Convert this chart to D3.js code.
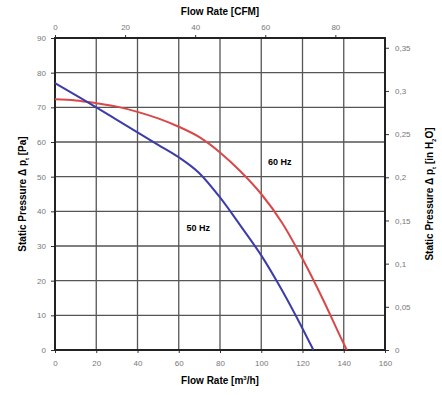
<!DOCTYPE html>
<html>
<head>
<meta charset="utf-8">
<script src="https://cdn.jsdelivr.net/npm/d3@7"></script>
<style>
  body { margin: 0; background: #fff; }
  .tick text { fill: #777; font-family: "Liberation Sans", Arial, sans-serif; font-size: 8px; }
</style>
</head>
<body>
<div id="my_dataviz"></div>
<script>
// data
var flow50 = [0, 10, 20, 30, 40, 50, 60, 70, 80, 90, 100, 110, 120, 125.3];
var pres50 = [77, 73.5, 70, 66.4, 62.8, 59.2, 55.6, 51, 44, 35.8, 27.3, 17.3, 6.2, 0];
var flow60 = [0, 10, 20, 30, 40, 50, 60, 70, 80, 90, 100, 110, 120, 130, 140, 141.5];
var pres60 = [72.3, 72, 71.2, 70.2, 68.7, 66.8, 64.4, 61.4, 57, 51.5, 45, 36.8, 26.3, 14.5, 1.8, 0];
var flowTicks = [0, 20, 40, 60, 80, 100, 120, 140, 160];
var cfmTicks = [0, 20, 40, 60, 80];
var paTicks = [0, 10, 20, 30, 40, 50, 60, 70, 80, 90];
var inTicks = [0, 0.05, 0.1, 0.15, 0.2, 0.25, 0.3, 0.35];

// set the dimensions and margins of the graph
var margin = {top: 38, right: 57, bottom: 45, left: 55},
    width = 442 - margin.left - margin.right,
    height = 395 - margin.top - margin.bottom;

var svg = d3.select("#my_dataviz")
  .append("svg")
    .attr("width", 442)
    .attr("height", 395)
  .append("g")
    .attr("transform", "translate(" + margin.left + "," + margin.top + ")");

var x = d3.scaleLinear().domain([0, 160]).range([0, width]);
var xCfm = d3.scaleLinear().domain([0, 160 / 1.699]).range([0, width]);
var y = d3.scaleLinear().domain([0, 90]).range([height, 0]);
var yIn = d3.scaleLinear().domain([0, 90 / 249.09]).range([height, 0]);

// grid
svg.append("g")
  .selectAll("line")
  .data(flowTicks)
  .enter()
  .append("line")
    .attr("x1", d => x(d)).attr("x2", d => x(d))
    .attr("y1", 0).attr("y2", height)
    .attr("stroke", "#555")
    .attr("stroke-width", 1.3);
svg.append("g")
  .selectAll("line")
  .data(paTicks)
  .enter()
  .append("line")
    .attr("y1", d => y(d)).attr("y2", d => y(d))
    .attr("x1", 0).attr("x2", width)
    .attr("stroke", "#555")
    .attr("stroke-width", 1.3);

// axes
function styleAxis(g) {
  g.select(".domain").remove();
  g.selectAll(".tick line").attr("stroke", "#333");
}
svg.append("g")
  .attr("transform", "translate(0," + height + ")")
  .call(d3.axisBottom(x).tickValues(flowTicks).tickSize(3).tickPadding(7))
  .call(styleAxis);
svg.append("g")
  .call(d3.axisTop(xCfm).tickValues(cfmTicks).tickSize(3).tickPadding(5))
  .call(styleAxis);
svg.append("g")
  .call(d3.axisLeft(y).tickValues(paTicks).tickSize(4).tickPadding(5))
  .call(styleAxis);
svg.append("g")
  .attr("transform", "translate(" + width + ",0)")
  .call(d3.axisRight(yIn).tickValues(inTicks).tickSize(4).tickPadding(6)
    .tickFormat(d => d3.format("~g")(d).replace(".", ",")))
  .call(styleAxis);

// frame
svg.append("rect")
  .attr("width", width)
  .attr("height", height)
  .attr("fill", "none")
  .attr("stroke", "#222")
  .attr("stroke-width", 2);

// the lines
var line = d3.line()
  .curve(d3.curveMonotoneX)
  .x(d => x(d[0]))
  .y(d => y(d[1]));

svg.append("path")
  .datum(d3.zip(flow60, pres60))
  .attr("fill", "none")
  .attr("stroke", "#d94848")
  .attr("stroke-width", 2)
  .attr("d", line);

svg.append("path")
  .datum(d3.zip(flow50, pres50))
  .attr("fill", "none")
  .attr("stroke", "#3c3caa")
  .attr("stroke-width", 2)
  .attr("d", line);

// series labels
svg.append("text")
  .attr("x", x(109))
  .attr("y", y(53.4))
  .attr("text-anchor", "middle")
  .style("font-size", "9px")
  .style("font-weight", "bold")
  .style("font-family", "Liberation Sans, Arial, sans-serif")
  .text("60 Hz");
svg.append("text")
  .attr("x", x(69.5))
  .attr("y", y(34.2))
  .attr("text-anchor", "middle")
  .style("font-size", "9px")
  .style("font-weight", "bold")
  .style("font-family", "Liberation Sans, Arial, sans-serif")
  .text("50 Hz");

// axis titles
var titleFont = "Liberation Sans, Arial, sans-serif";
svg.append("text")
  .attr("x", width / 2)
  .attr("y", -23)
  .attr("text-anchor", "middle")
  .style("font-size", "10px")
  .style("font-weight", "bold")
  .style("font-family", titleFont)
  .text("Flow Rate [CFM]");

var bt = svg.append("text")
  .attr("x", width / 2)
  .attr("y", height + 34)
  .attr("text-anchor", "middle")
  .style("font-size", "10px")
  .style("font-weight", "bold")
  .style("font-family", titleFont);
bt.append("tspan").text("Flow Rate [m");
bt.append("tspan").attr("dy", -4).style("font-size", "6px").text("3");
bt.append("tspan").attr("dy", 4).text("/h]");

var lt = svg.append("text")
  .attr("transform", "translate(" + (-29) + "," + (height / 2) + ") rotate(-90)")
  .attr("text-anchor", "middle")
  .style("font-size", "10px")
  .style("font-weight", "bold")
  .style("font-family", titleFont);
lt.append("tspan").text("Static Pressure \u0394 p");
lt.append("tspan").attr("dy", 3).style("font-size", "6px").text("t");
lt.append("tspan").attr("dy", -3).text(" [Pa]");

var rt = svg.append("text")
  .attr("transform", "translate(" + (width + 48) + "," + (height / 2) + ") rotate(-90)")
  .attr("text-anchor", "middle")
  .style("font-size", "10px")
  .style("font-weight", "bold")
  .style("font-family", titleFont);
rt.append("tspan").text("Static Pressure \u0394 p");
rt.append("tspan").attr("dy", 3).style("font-size", "6px").text("t");
rt.append("tspan").attr("dy", -3).text(" [in H");
rt.append("tspan").attr("dy", 3).style("font-size", "6px").text("2");
rt.append("tspan").attr("dy", -3).text("O]");
</script>
</body>
</html>
